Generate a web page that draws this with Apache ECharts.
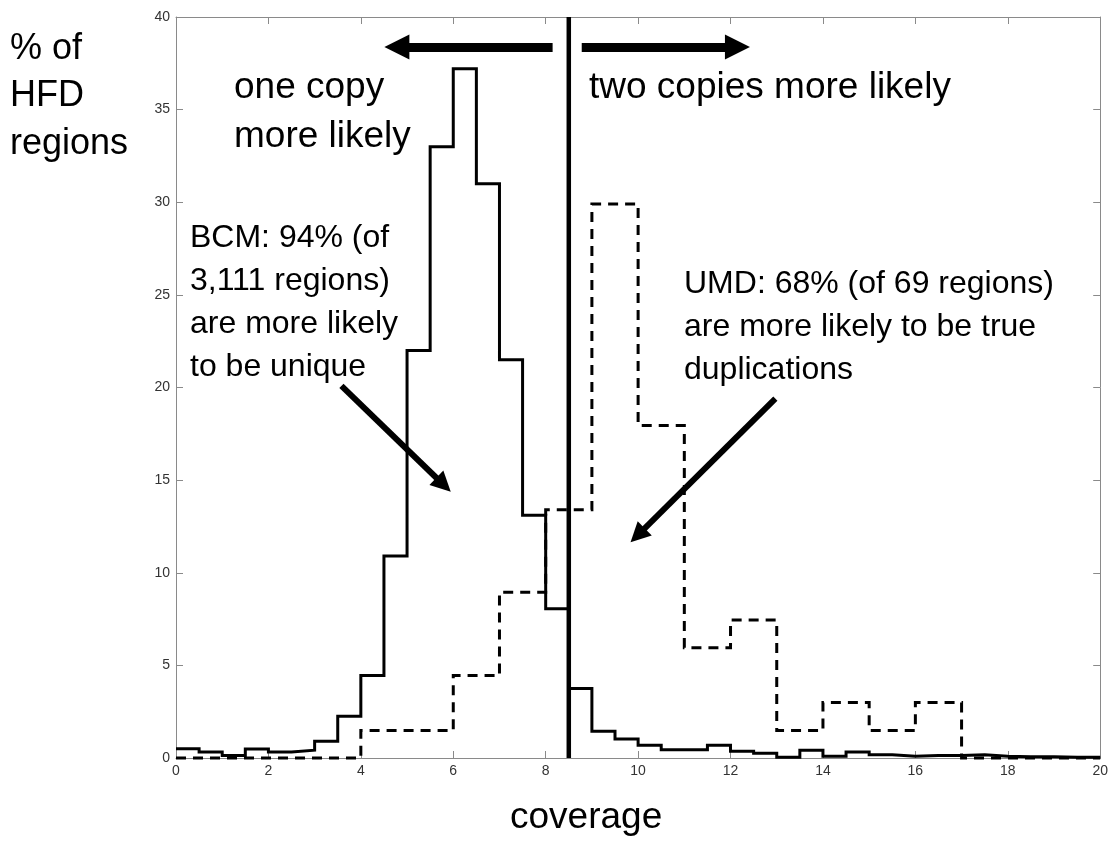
<!DOCTYPE html>
<html>
<head>
<meta charset="utf-8">
<script src="https://cdn.jsdelivr.net/npm/echarts@6/dist/echarts.min.js"></script>
<style>
html,body{margin:0;padding:0;background:#fff;}
#chart{width:1111px;height:854px;}
</style>
</head>
<body>
<div id="chart"></div>
<script>
// ---- data ----
const xTicks = [0, 2, 4, 6, 8, 10, 12, 14, 16, 18, 20];
const yTicks = [0, 5, 10, 15, 20, 25, 30, 35, 40];
const bcmBinWidth = 0.5;
const bcmValues = [0.5, 0.33, 0.14, 0.49, 0.33, 0.42, 0.9, 2.26, 4.46, 10.9,
                   22.0, 33.0, 37.2, 31.0, 21.5, 13.1, 8.05, 3.75, 1.44, 1.03,
                   0.69, 0.45, 0.45, 0.69, 0.36, 0.25, 0.04, 0.42, 0.09, 0.32,
                   0.18, 0.09, 0.14, 0.14, 0.18, 0.09, 0.07, 0.07, 0.04, 0.04];
const umdBinWidth = 1;
const umdValues = [0, 0, 0, 0, 1.48, 1.48, 4.45, 8.95, 13.4, 29.9,
                   17.95, 5.95, 7.45, 1.48, 3.0, 1.48, 3.0, 0, 0, 0];
const threshold = 8.5;
const arrowLeft = [[8.15, 38.38], [4.78, 38.38]];
const arrowRight = [[8.78, 38.38], [12.15, 38.38]];
const arrowBCM = [[3.58, 20.09], [5.79, 14.75]];
const arrowUMD = [[12.97, 19.4], [9.99, 12.02]];
const labelYAxis = '% of\nHFD\nregions';
const labelXAxis = 'coverage';
const labelOne = 'one copy\nmore likely';
const labelTwo = 'two copies more likely';
const labelBCM = 'BCM: 94% (of\n3,111 regions)\nare more likely\nto be unique';
const labelUMD = 'UMD: 68% (of 69 regions)\nare more likely to be true\nduplications';

function stairs(values, w) {
  const d = values.map((v, i) => [i * w, v]);
  d.push([values.length * w, values[values.length - 1]]);
  return d;
}

const FONT = "'Liberation Sans', Arial, Helvetica, sans-serif";
const axisGray = '#8a8a8a';

function xAx(pos, showLabel) {
  return {
    type: 'value', min: xTicks[0], max: xTicks[xTicks.length - 1], interval: 2, position: pos,
    axisLine: {show: true, onZero: false, lineStyle: {color: axisGray, width: 1}},
    axisTick: {show: true, inside: true, length: 7, lineStyle: {color: axisGray}},
    axisLabel: {show: showLabel, color: '#333', fontSize: 14, fontFamily: FONT, margin: 6},
    splitLine: {show: false}
  };
}
function yAx(pos, showLabel) {
  return {
    type: 'value', min: yTicks[0], max: yTicks[yTicks.length - 1], interval: 5, position: pos,
    axisLine: {show: true, onZero: false, lineStyle: {color: axisGray, width: 1}},
    axisTick: {show: true, inside: true, length: 7, lineStyle: {color: axisGray}},
    axisLabel: {show: showLabel, color: '#333', fontSize: 14, fontFamily: FONT, margin: 6},
    splitLine: {show: false}
  };
}

function arrowItem(pts, width, size) {
  return [
    {coord: pts[0], symbol: 'none', lineStyle: {width: width, color: '#000', type: 'solid'}},
    {coord: pts[1], symbol: 'triangle', symbolSize: size}
  ];
}

const chart = echarts.init(document.getElementById('chart'), null, {renderer: 'canvas'});
chart.setOption({
  animation: false,
  backgroundColor: '#fff',
  grid: {left: 176, right: 10, top: 17, bottom: 96},
  xAxis: [xAx('bottom', true), xAx('top', false)],
  yAxis: [yAx('left', true), yAx('right', false)],
  series: [
    {
      name: 'BCM', type: 'line', step: 'end', data: stairs(bcmValues, bcmBinWidth),
      symbol: 'none', clip: false, z: 3,
      lineStyle: {color: '#000', width: 3, type: 'solid', join: 'miter'}
    },
    {
      name: 'UMD', type: 'line', step: 'end', data: stairs(umdValues, umdBinWidth),
      symbol: 'none', clip: false, z: 2,
      lineStyle: {color: '#000', width: 3, type: [10, 7], join: 'miter'}
    },
    {
      name: 'threshold', type: 'line', data: [[threshold, yTicks[0]], [threshold, yTicks[yTicks.length - 1]]],
      symbol: 'none', clip: false, z: 4,
      lineStyle: {color: '#000', width: 4.5},
      markLine: {
        silent: true, animation: false,
        label: {show: false},
        emphasis: {disabled: true},
        symbol: ['none', 'triangle'],
        data: [
          arrowItem(arrowLeft, 9, 25),
          arrowItem(arrowRight, 9, 25),
          arrowItem(arrowBCM, 6, 20),
          arrowItem(arrowUMD, 6, 20)
        ]
      }
    }
  ],
  graphic: [
    {type: 'text', left: 10, top: 25, style: {text: labelYAxis, font: '36px ' + FONT, fill: '#000', lineHeight: 47.5}},
    {type: 'text', left: 234, top: 63, style: {text: labelOne, font: '37px ' + FONT, fill: '#000', lineHeight: 49}},
    {type: 'text', left: 589, top: 63, style: {text: labelTwo, font: '37px ' + FONT, fill: '#000', lineHeight: 49}},
    {type: 'text', left: 190, top: 217, style: {text: labelBCM, font: '32px ' + FONT, fill: '#000', lineHeight: 43}},
    {type: 'text', left: 684, top: 263, style: {text: labelUMD, font: '32px ' + FONT, fill: '#000', lineHeight: 43}},
    {type: 'text', left: 510, top: 793, style: {text: labelXAxis, font: '37px ' + FONT, fill: '#000', lineHeight: 49}}
  ]
});
</script>
</body>
</html>
